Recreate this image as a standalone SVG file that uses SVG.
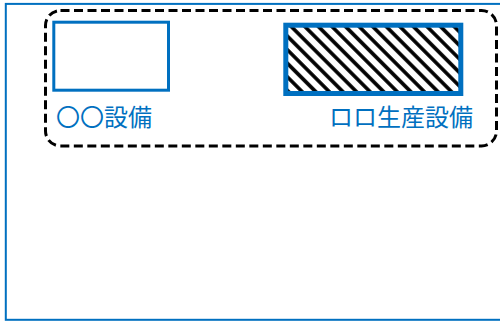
<svg xmlns="http://www.w3.org/2000/svg" width="500" height="321" viewBox="0 0 500 321">
  <style>
    .lbl { font-family: "Noto Sans CJK JP", "Noto Sans", sans-serif; font-size: 24px; fill: #0070C0; }
    .box { fill: none; stroke: #0070C0; }
  </style>
  <defs>
    <pattern id="hatch" patternUnits="userSpaceOnUse" width="9.6" height="9.6" patternTransform="rotate(45)">
      <rect x="0" y="0" width="9.6" height="9.6" fill="#fff"/>
      <line x1="0" y1="4.8" x2="9.6" y2="4.8" stroke="#000" stroke-width="3.6"/>
    </pattern>
  </defs>
  <rect width="500" height="321" fill="#fff"/>
  <g id="frame">
    <rect x="5.8" y="3.9" width="500" height="315.9" fill="none" stroke="#0070C0" stroke-width="2"/>
  </g>
  <g id="group">
    <rect x="45.5" y="10.5" width="451" height="135.5" rx="15" ry="15" fill="none" stroke="#000" stroke-width="3" stroke-dasharray="9 4.5"/>
  </g>
  <g id="equip1">
    <rect class="box" x="53.8" y="22.2" width="114.7" height="68" stroke-width="3"/>
    <text class="lbl" x="56" y="126">〇〇設備</text>
  </g>
  <g id="equip2">
    <rect x="285.8" y="25.2" width="175" height="68.3" fill="url(#hatch)" stroke="#0070C0" stroke-width="5"/>
    <text class="lbl" x="473" y="126" text-anchor="end">ロロ生産設備</text>
  </g>
  <g id="connectors"/>
</svg>
